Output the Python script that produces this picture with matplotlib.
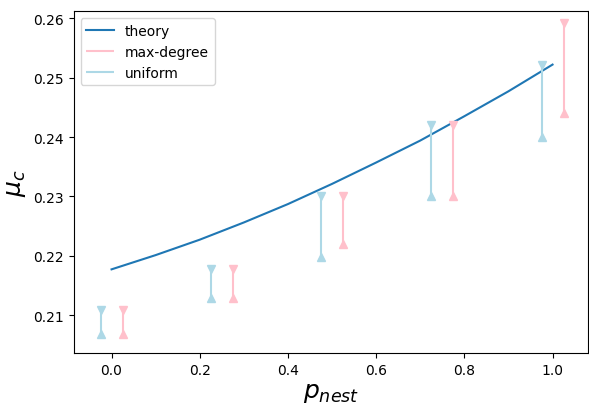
import numpy as np
import matplotlib
matplotlib.use('Agg')
import matplotlib.pyplot as plt

# theory curve
p_theory = [0.0, 0.1, 0.2, 0.3, 0.4, 0.5, 0.6, 0.7, 0.8, 0.9, 1.0]
mu_theory = [0.2177, 0.2201, 0.2227, 0.2256, 0.2287, 0.2321, 0.2357, 0.2394, 0.2435, 0.2477, 0.2522]

# simulated ranges
p_nest = [0.0, 0.25, 0.5, 0.75, 1.0]
uniform_lo = [0.2068, 0.2128, 0.2198, 0.2300, 0.2400]
uniform_hi = [0.2108, 0.2178, 0.2300, 0.2421, 0.2522]
maxdeg_lo = [0.2068, 0.2128, 0.2219, 0.2300, 0.2440]
maxdeg_hi = [0.2108, 0.2178, 0.2300, 0.2421, 0.2592]

offset = 0.025
x_uni = np.array(p_nest) - offset
x_max = np.array(p_nest) + offset

fig = plt.figure(figsize=(5.89, 4.06), dpi=100)
ax = fig.add_axes([0.125, 0.128, 0.873, 0.842])

ax.plot(p_theory, mu_theory, color='#1f77b4', lw=1.5, label='theory')

ax.vlines(x_max, maxdeg_lo, maxdeg_hi, color='pink', lw=1.5, label='max-degree')
ax.plot(x_max, maxdeg_lo, '^', color='pink', ms=6, ls='none')
ax.plot(x_max, maxdeg_hi, 'v', color='pink', ms=6, ls='none')

ax.vlines(x_uni, uniform_lo, uniform_hi, color='lightblue', lw=1.5, label='uniform')
ax.plot(x_uni, uniform_lo, '^', color='lightblue', ms=6, ls='none')
ax.plot(x_uni, uniform_hi, 'v', color='lightblue', ms=6, ls='none')

ax.set_xlim(-0.086, 1.080)
ax.set_ylim(0.2036, 0.2612)
ax.set_yticks([0.21, 0.22, 0.23, 0.24, 0.25, 0.26])
ax.set_xlabel(r'$p_{nest}$', fontsize=18, labelpad=2)
ax.set_ylabel(r'$\mu_c$', fontsize=18)
ax.legend(loc='upper left')

fig.savefig('out.png', dpi=100)
